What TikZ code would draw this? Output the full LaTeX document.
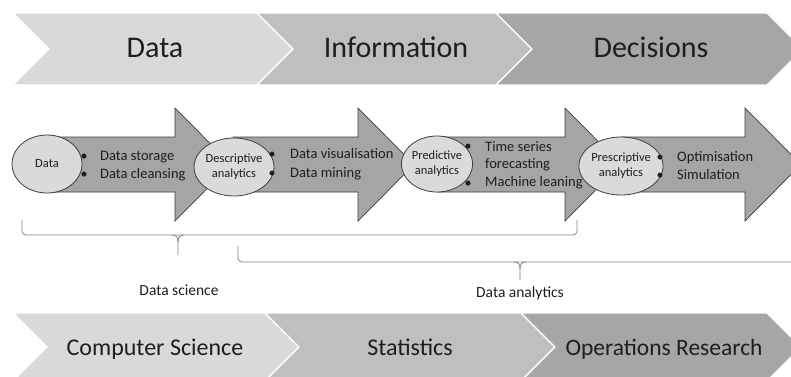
\documentclass[tikz,border=0pt]{standalone}
\usepackage{fontspec}
\setmainfont{Carlito}
\usetikzlibrary{shapes.geometric}
\definecolor{gone}{HTML}{D9D9D9}
\definecolor{gtwo}{HTML}{BFBFBF}
\definecolor{gthree}{HTML}{A6A6A6}
\definecolor{arrfill}{HTML}{A5A5A5}
\definecolor{outl}{HTML}{3F3F3F}
\definecolor{elfill}{HTML}{DADADA}
\definecolor{txt}{HTML}{1E1E1E}
\definecolor{bracecol}{HTML}{858585}
\begin{document}
\begin{tikzpicture}[x=1pt,y=-1pt,
  chev/.style={draw=white, line width=1.2pt},
  bigarrow/.style={fill=arrfill, draw=outl, line width=0.7pt, line join=miter},
  ell/.style={ellipse, fill=elfill, draw=outl, line width=0.8pt, inner sep=0pt,
    align=center, text=txt, font=\fontsize{12.5}{15}\selectfont},
  bigtxt/.style={anchor=base, text=txt, font=\fontsize{30}{36}\selectfont, inner sep=0pt},
  midtxt/.style={anchor=base, text=txt, font=\fontsize{24}{29}\selectfont, inner sep=0pt},
  bultxt/.style={anchor=base west, text=txt, font=\fontsize{14.5}{17}\selectfont, inner sep=0pt},
  bul/.style={anchor=base, text=txt, font=\fontsize{14}{17}\selectfont, inner sep=0pt},
  lbltxt/.style={anchor=base, text=txt, font=\fontsize{15.5}{18}\selectfont, inner sep=0pt},
  bracel/.style={draw=bracecol, line width=0.8pt}
]
\useasboundingbox (0,0) rectangle (791,376);
\clip (0,0) rectangle (791,376);
\fill[white] (0,0) rectangle (791,376);

% top chevrons
\filldraw[chev, fill=gone]   (13,13) -- (257,13) -- (293,49) -- (257,85) -- (13,85) -- (49,49) -- cycle;
\filldraw[chev, fill=gtwo]   (257,13) -- (496,13) -- (532,49) -- (496,85) -- (257,85) -- (293,49) -- cycle;
\filldraw[chev, fill=gthree] (496,13) -- (767,13) -- (803,49) -- (767,85) -- (496,85) -- (532,49) -- cycle;
\node[bigtxt] (tdata) at (155,57) {Data};
\node[bigtxt] (tinfo) at (396,57) {Information};
\node[bigtxt] (tdec)  at (651,57) {Decisions};

% bottom chevrons
\filldraw[chev, fill=gone]   (13,313) -- (265,313) -- (299,347) -- (265,381) -- (13,381) -- (47,347) -- cycle;
\filldraw[chev, fill=gtwo]   (265,313) -- (521,313) -- (555,347) -- (521,381) -- (265,381) -- (299,347) -- cycle;
\filldraw[chev, fill=gthree] (521,313) -- (767,313) -- (801,347) -- (767,381) -- (521,381) -- (555,347) -- cycle;
\node[midtxt] (bcs)  at (155,355) {Computer Science};
\node[midtxt] (bst)  at (410,355) {Statistics};
\node[midtxt, font=\fontsize{23.5}{28}\selectfont] (bor)  at (664,355) {Operations Research};

% block arrows
\filldraw[bigarrow] (47,137) -- (175,137) -- (175,108) -- (231,164.5) -- (175,221) -- (175,192) -- (47,192) -- cycle;
\filldraw[bigarrow] (233,137) -- (358,137) -- (358,108) -- (414,164.5) -- (358,221) -- (358,192) -- (233,192) -- cycle;
\filldraw[bigarrow] (437,137) -- (565,137) -- (565,108) -- (621,164.5) -- (565,221) -- (565,192) -- (437,192) -- cycle;
\filldraw[bigarrow] (621,137) -- (745,137) -- (745,108) -- (801,164.5) -- (745,221) -- (745,192) -- (621,192) -- cycle;

% ellipses
\node[ell, minimum width=70pt, minimum height=58pt] (e1) at (47,164) {Data};
\node[ell, minimum width=74pt, minimum height=58pt] (e2) at (234,167) {Descriptive\\analytics};
\node[ell, minimum width=70pt, minimum height=56pt] (e3) at (437,164) {Predictive\\analytics};
\node[ell, minimum width=78pt, minimum height=58pt] (e4) at (621,166) {Prescriptive\\analytics};

% bullet texts
\node[bul] (b11) at (84,160) {\textbullet};
\node[bul] (b12) at (84,178) {\textbullet};
\node[bultxt] (t11) at (100,160) {Data storage};
\node[bultxt] (t12) at (100,178) {Data cleansing};

\node[bul] (b21) at (272,158) {\textbullet};
\node[bul] (b22) at (272,177) {\textbullet};
\node[bultxt] (t21) at (290,158) {Data visualisation};
\node[bultxt] (t22) at (290,177) {Data mining};

\node[bul] (b31) at (468,150) {\textbullet};
\node[bul] (b32) at (468,187) {\textbullet};
\node[bultxt] (t31) at (485,151) {Time series};
\node[bultxt] (t32) at (485,168) {forecasting};
\node[bultxt] (t33) at (485,186) {Machine leaning};

\node[bul] (b41) at (660,161) {\textbullet};
\node[bul] (b42) at (660,179) {\textbullet};
\node[bultxt] (t41) at (677,161) {Optimisation};
\node[bultxt] (t42) at (677,179) {Simulation};

% braces
\coordinate (dsl) at (22,220);
\coordinate (dsr) at (577,220);
\coordinate (dst) at (178,255);
\draw[bracel, rounded corners=4pt] (dsl) -- (22,235) -- (577,235) -- (dsr);
\draw[bracel] (172,235) .. controls (176,235) and (178,237) .. (178,242) -- (dst);
\draw[bracel] (184,235) .. controls (180,235) and (178,237) .. (178,242);
\node[lbltxt] (ds) at (179,295) {Data science};

\coordinate (dal) at (238,246);
\coordinate (dar) at (800,262);
\coordinate (dat) at (520,280);
\draw[bracel, rounded corners=4pt] (dal) -- (238,262) -- (dar);
\draw[bracel] (514,262) .. controls (518,262) and (520,264) .. (520,269) -- (dat);
\draw[bracel] (526,262) .. controls (522,262) and (520,264) .. (520,269);
\node[lbltxt] (da) at (520,297) {Data analytics};
\end{tikzpicture}
\end{document}
